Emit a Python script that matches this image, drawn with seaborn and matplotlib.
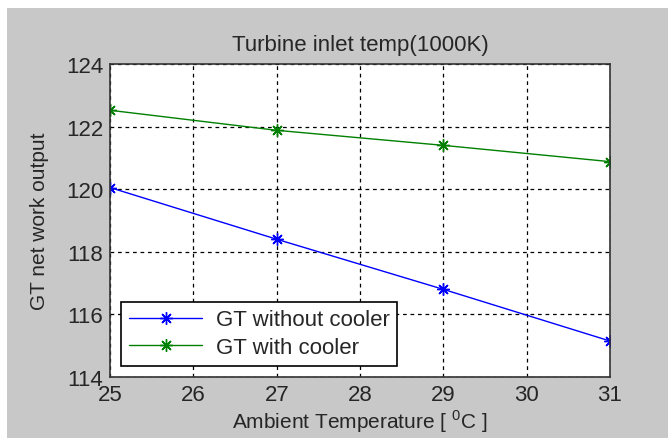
import pandas as pd
import matplotlib
matplotlib.use("Agg")
import matplotlib.pyplot as plt
from matplotlib.patches import Rectangle
import seaborn as sns

# values
ambient_temp = [25, 27, 29, 31]
without_cooler = [120.05, 118.4, 116.8, 115.15]
with_cooler = [122.52, 121.88, 121.4, 120.88]
series_names = ["GT without cooler", "GT with cooler"]
series_colors = ["#0000ff", "#008000"]
x_ticks = [25, 26, 27, 28, 29, 30, 31]
y_ticks = [114, 116, 118, 120, 122, 124]

df = pd.DataFrame({
    "temp": ambient_temp * 2,
    "output": without_cooler + with_cooler,
    "series": [series_names[0]] * 4 + [series_names[1]] * 4,
})

sns.set_style("white")
plt.rcParams["font.family"] = ["Liberation Sans", "DejaVu Sans"]
plt.rcParams["font.size"] = 16

fig = plt.figure(figsize=(6.68, 4.39), dpi=100, facecolor="#c8c8c8")
# white margin strips at the top and left of the reference image
fig.patches.append(Rectangle((0, 1 - 9 / 439), 1, 9 / 439, transform=fig.transFigure,
                             facecolor="white", edgecolor="none", zorder=0))
fig.patches.append(Rectangle((0, 0), 7 / 668, 1, transform=fig.transFigure,
                             facecolor="white", edgecolor="none", zorder=0))

ax = fig.add_axes([0.165, 0.139, 0.748, 0.713])

sns.lineplot(data=df, x="temp", y="output", hue="series", hue_order=series_names,
             palette=series_colors, marker=(8, 2, 0), markersize=9,
             linewidth=1.0, legend=False, ax=ax)
for line in ax.lines:
    line.set_markeredgecolor(line.get_color())
    line.set_markeredgewidth(1.0)

ax.set_xlim(25, 31)
ax.set_ylim(114, 124)
ax.set_xticks(x_ticks)
ax.set_yticks(y_ticks)
ax.grid(True, color="black", linestyle=(0, (3, 3)), linewidth=0.9)
ax.tick_params(direction="in", length=0, labelsize=16, pad=5)
for s in ax.spines.values():
    s.set_color("#333333")
    s.set_linewidth(1.2)

ax.set_title("Turbine inlet temp(1000K)", fontsize=16, pad=10)
ax.set_xlabel(r"Ambient Temperature [ $^{\mathregular{0}}$C ]", fontsize=15, labelpad=2)
ax.set_ylabel("GT net work output", fontsize=15, labelpad=12)

leg = ax.legend(ax.lines[:2], series_names, loc="lower left", fontsize=16,
                frameon=True, fancybox=False, edgecolor="black", framealpha=1,
                borderaxespad=0.5, handlelength=3.3, labelspacing=0.3,
                borderpad=0.35, handletextpad=0.6)
leg.get_frame().set_linewidth(1.2)

fig.savefig("out.png", dpi=100, facecolor=fig.get_facecolor())
